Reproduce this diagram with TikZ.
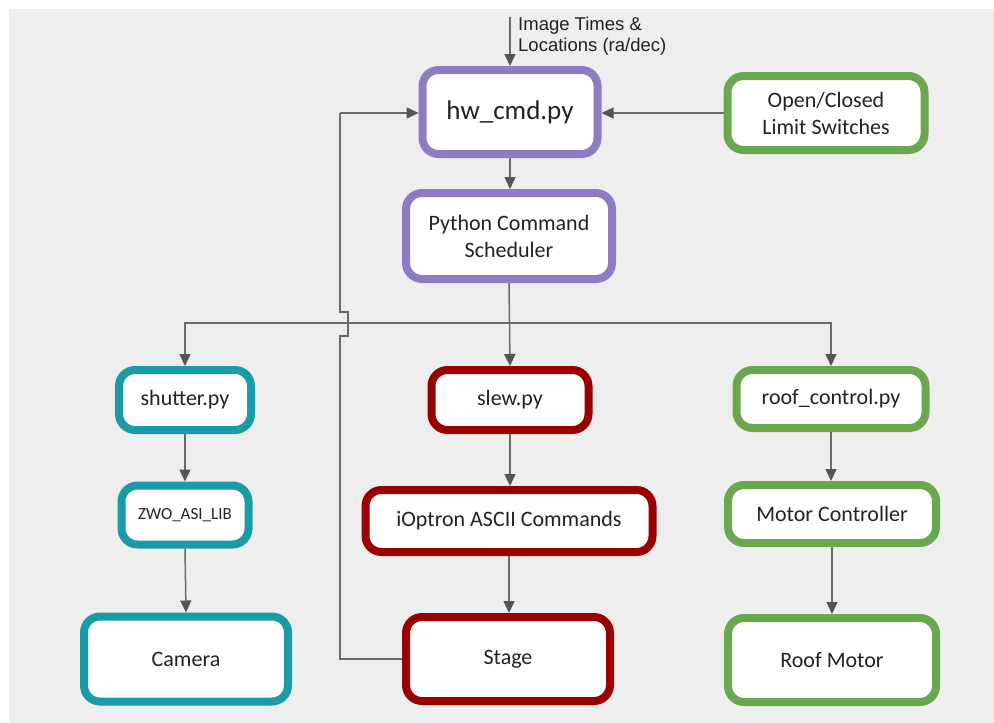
\documentclass[tikz,border=0pt]{standalone}
\usepackage{fontspec}
\setmainfont{Carlito}
\newfontfamily\labelfont{Liberation Sans}
\usetikzlibrary{arrows.meta}
\definecolor{bggray}{HTML}{EEEEEE}
\definecolor{cpurple}{HTML}{8E7CC3}
\definecolor{cgreen}{HTML}{6AA84F}
\definecolor{cteal}{HTML}{1B9AA8}
\definecolor{cred}{HTML}{990000}
\definecolor{cline}{HTML}{6A6A6A}
\definecolor{ctip}{HTML}{555555}
\definecolor{ctext}{HTML}{222222}
\tikzset{
  box/.style={draw, line width=8pt, rounded corners=16pt, fill=white,
    align=center, inner sep=2pt, font=\fontsize{22}{27}\selectfont, text=ctext},
  purplebox/.style={box, draw=cpurple},
  greenbox/.style={box, draw=cgreen},
  tealbox/.style={box, draw=cteal},
  redbox/.style={box, draw=cred},
  link/.style={draw=cline, line width=1.5pt,
    -{Triangle[length=12pt,width=11pt,fill=ctip,color=ctip]}},
  plainlink/.style={draw=cline, line width=1.5pt},
}
\begin{document}
\begin{tikzpicture}[x=1pt,y=-1pt]
\useasboundingbox (0,0) rectangle (994,723);
\fill[bggray] (9,9) rectangle (994,723);

% top row
\node[purplebox, minimum width=175, minimum height=84,
  font=\fontsize{27}{32}\selectfont] (hw) at (510,112) {hw\_cmd.py};
\node[greenbox, minimum width=197, minimum height=74] (lim) at (826,113)
  {Open/Closed\\Limit Switches};
\node[purplebox, minimum width=206, minimum height=86] (sched) at (509,236)
  {Python Command\\Scheduler};

% second row
\node[tealbox, minimum width=132, minimum height=60] (shut) at (185,400) {shutter.py};
\node[redbox, minimum width=157, minimum height=60] (slew) at (510,400) {slew.py};
\node[greenbox, minimum width=189, minimum height=58] (roof) at (831,399) {roof\_control.py};

% third row
\node[tealbox, minimum width=127, minimum height=59,
  font=\fontsize{17}{20}\selectfont] (zwo) at (185,515) {ZWO\_ASI\_LIB};
\node[redbox, minimum width=287, minimum height=62] (iopt) at (509,521) {iOptron ASCII Commands};
\node[greenbox, minimum width=208, minimum height=58] (mctl) at (832,514) {Motor Controller};

% bottom row
\node[tealbox, minimum width=204, minimum height=85] (cam) at (186,659) {Camera};
\node[redbox, minimum width=204, minimum height=84] (stage) at (508,659) {Stage};
\node[greenbox, minimum width=208, minimum height=84] (rmot) at (832,660) {Roof Motor};

% external input
\coordinate (inp) at (510,17);
\node[anchor=north west, align=left, inner sep=0pt, text=ctext,
  font=\labelfont\fontsize{18.5}{21}\selectfont] (inlbl) at (518,17)
  {Image Times \&\\Locations (ra/dec)};
\draw[link] (inp) -- (hw.north);

% limit switches into hw_cmd
\draw[link] (lim.west) -- (lim.west -| hw.east);

% hw_cmd to scheduler
\draw[link] (hw.south) -- (hw.south |- sched.north);

% scheduler fan-out
\coordinate (bus) at (510,323);
\draw[link] (sched.south) -- (slew.north);
\draw[link] (bus) -| (shut.north);
\draw[link] (bus) -| (roof.north);

% chains
\draw[link] (shut.south) -- (zwo.north);
\draw[link] (zwo.south) -- (cam.north);
\draw[link] (slew.south) -- (iopt.north -| slew.south);
\draw[link] (iopt.south) -- (iopt.south |- stage.north);
\draw[link] (roof.south) -- (roof.south |- mctl.north);
\draw[link] (mctl.south) -- (mctl.south |- rmot.north);

% stage feedback to hw_cmd, hopping over the bus
\coordinate (fb1) at (340,659);
\coordinate (fb2) at (340,113);
\draw[plainlink] (stage.west) -- (fb1) -- (340,336) -- (348,336) -- (348,312) -- (340,312) -- (fb2);
\draw[link] (fb2) -- (fb2 -| hw.west);
\end{tikzpicture}
\end{document}
